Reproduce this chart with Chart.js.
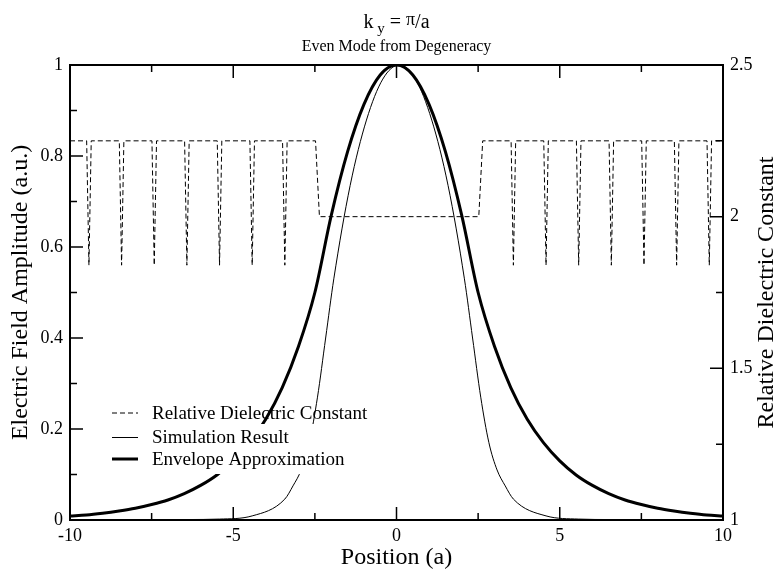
<!DOCTYPE html>
<html>
<head>
<meta charset="utf-8">
<script src="https://cdn.jsdelivr.net/npm/chart.js@4.4.1/dist/chart.umd.min.js"></script>
<style>
  html, body { margin: 0; padding: 0; background: #fff; }
</style>
</head>
<body>
<canvas id="chart" width="781" height="574"></canvas>
<script>
// relative dielectric constant (right axis)
var epsX = [-10,
  -9.49, -9.42, -9.35, -8.49, -8.42, -8.35, -7.49, -7.42, -7.35,
  -6.49, -6.42, -6.35, -5.49, -5.42, -5.35, -4.49, -4.42, -4.35,
  -3.49, -3.42, -3.35,
  -2.48, -2.36, 2.52, 2.64,
  3.51, 3.58, 3.65, 4.51, 4.58, 4.65, 5.51, 5.58, 5.65,
  6.51, 6.58, 6.65, 7.51, 7.58, 7.65, 8.51, 8.58, 8.65,
  9.51, 9.58, 9.65,
  10];
var epsY = [2.25,
  2.25, 1.84, 2.25, 2.25, 1.84, 2.25, 2.25, 1.84, 2.25,
  2.25, 1.84, 2.25, 2.25, 1.84, 2.25, 2.25, 1.84, 2.25,
  2.25, 1.84, 2.25,
  2.25, 2.0, 2.0, 2.25,
  2.25, 1.84, 2.25, 2.25, 1.84, 2.25, 2.25, 1.84, 2.25,
  2.25, 1.84, 2.25, 2.25, 1.84, 2.25, 2.25, 1.84, 2.25,
  2.25, 1.84, 2.25,
  2.25];

// simulation result
var simX = [-10, -8.42, -6.42, -5.42, -4.42, -3.42, -3.17, -2.92, -2.67, -2.42, -2.17, -1.92,
  -1.42, -0.92, -0.42, 0.08, 0.58, 1.08, 1.58,
  2.08, 2.33, 2.58, 2.83, 3.08, 3.33, 3.58, 4.58, 5.58, 6.58, 8.58, 10];
var simY = [0, 0.0005, 0.001, 0.002, 0.009, 0.046, 0.075, 0.11, 0.17, 0.27, 0.40, 0.53,
  0.735, 0.879, 0.969, 1, 0.969, 0.879, 0.735,
  0.53, 0.40, 0.27, 0.17, 0.11, 0.075, 0.046, 0.009, 0.002, 0.001, 0.0005, 0];

// envelope approximation
var envX = [-10, -9.5, -9, -8.5, -8, -7.5, -7, -6.5, -6, -5.5, -5, -4.5, -4, -3.5, -3, -2.5,
  -2, -1.5, -1, -0.5, 0, 0.5, 1, 1.5, 2,
  2.5, 3, 3.5, 4, 4.5, 5, 5.5, 6, 6.5, 7, 7.5, 8, 8.5, 9, 9.5, 10];
var envY = [0.0087, 0.011, 0.015, 0.020, 0.026, 0.034, 0.044, 0.058, 0.076, 0.099, 0.130, 0.170, 0.222, 0.291, 0.382, 0.5,
  0.669, 0.809, 0.913, 0.978, 1, 0.978, 0.913, 0.809, 0.669,
  0.5, 0.382, 0.291, 0.222, 0.170, 0.130, 0.099, 0.076, 0.058, 0.044, 0.034, 0.026, 0.020, 0.015, 0.011, 0.0087];

var seriesNames = ['Relative Dielectric Constant', 'Simulation Result', 'Envelope Approximation'];

function pts(xs, ys) {
  return xs.map(function (x, i) { return { x: x, y: ys[i] }; });
}
function plain(v) {
  return String(Math.round(v * 100) / 100);
}

var serif = "'Liberation Serif', 'Times New Roman', serif";
Chart.defaults.font.family = serif;
Chart.defaults.color = '#000';

// frame, inward ticks, legend and titles
var decor = {
  id: 'decor',
  afterDatasetsDraw: function (chart) {
    var ctx = chart.ctx, a = chart.chartArea;
    var sx = chart.scales.x, sy = chart.scales.y, sy2 = chart.scales.y2;
    ctx.save();

    // legend (white box behind the last two rows)
    ctx.fillStyle = '#fff';
    ctx.fillRect(100, 424, 250, 50);
    var rows = [413, 437.5, 459];
    chart.data.datasets.forEach(function (ds, i) {
      ctx.beginPath();
      ctx.strokeStyle = '#000';
      ctx.lineWidth = ds.borderWidth;
      ctx.setLineDash(ds.borderDash || []);
      ctx.moveTo(112, rows[i]);
      ctx.lineTo(138, rows[i]);
      ctx.stroke();
      ctx.setLineDash([]);
      ctx.fillStyle = '#000';
      ctx.font = '19px ' + serif;
      ctx.textBaseline = 'middle';
      ctx.textAlign = 'left';
      ctx.fillText(ds.label, 152, rows[i] + 1);
    });

    // ticks pointing inward
    ctx.strokeStyle = '#000';
    ctx.lineWidth = 1.5;
    function marks(scale, draw) {
      var v = scale.ticks.map(function (t) { return t.value; });
      var step = v[1] - v[0];
      v.forEach(function (val, i) {
        draw(scale.getPixelForValue(val), 13);
        if (i < v.length - 1) draw(scale.getPixelForValue(val + step / 2), 7);
      });
    }
    ctx.beginPath();
    marks(sx, function (p, len) {
      ctx.moveTo(p, a.bottom); ctx.lineTo(p, a.bottom - len);
      ctx.moveTo(p, a.top); ctx.lineTo(p, a.top + len);
    });
    marks(sy, function (p, len) {
      ctx.moveTo(a.left, p); ctx.lineTo(a.left + len, p);
    });
    marks(sy2, function (p, len) {
      ctx.moveTo(a.right, p); ctx.lineTo(a.right - len, p);
    });
    ctx.stroke();

    // frame
    ctx.lineWidth = 2;
    ctx.strokeRect(a.left, a.top, a.right - a.left, a.bottom - a.top);

    // right axis title, reading bottom to top
    ctx.save();
    ctx.translate(767, (a.top + a.bottom) / 2);
    ctx.rotate(-Math.PI / 2);
    ctx.font = '24px ' + serif;
    ctx.textAlign = 'center';
    ctx.textBaseline = 'middle';
    ctx.fillStyle = '#000';
    ctx.fillText('Relative Dielectric Constant', 0, 0);
    ctx.restore();

    // title: k_y = pi/a
    var cx = (a.left + a.right) / 2;
    var parts = [
      { t: 'k', size: 20, dy: 0 },
      { t: ' y', size: 15, dy: 5 },
      { t: ' = ', size: 20, dy: 0 },
      { t: '\u03c0', size: 18, dy: -3 },
      { t: '/a', size: 20, dy: 0 }
    ];
    var w = 0;
    parts.forEach(function (p) { ctx.font = p.size + 'px ' + serif; p.w = ctx.measureText(p.t).width; w += p.w; });
    var x0 = cx - w / 2;
    ctx.fillStyle = '#000';
    ctx.textAlign = 'left';
    ctx.textBaseline = 'alphabetic';
    parts.forEach(function (p) {
      ctx.font = p.size + 'px ' + serif;
      ctx.fillText(p.t, x0, 28 + p.dy);
      x0 += p.w;
    });
    ctx.font = '16px ' + serif;
    ctx.textAlign = 'center';
    ctx.textBaseline = 'middle';
    ctx.fillText('Even Mode from Degeneracy', cx, 47);
    ctx.restore();
  }
};

new Chart(document.getElementById('chart'), {
  type: 'scatter',
  data: {
    datasets: [
      {
        label: seriesNames[0],
        data: pts(epsX, epsY),
        yAxisID: 'y2',
        showLine: true,
        borderColor: '#000',
        borderWidth: 1,
        borderDash: [5, 3],
        pointRadius: 0,
        tension: 0
      },
      {
        label: seriesNames[1],
        data: pts(simX, simY),
        yAxisID: 'y',
        showLine: true,
        borderColor: '#000',
        borderWidth: 1,
        pointRadius: 0,
        cubicInterpolationMode: 'monotone'
      },
      {
        label: seriesNames[2],
        data: pts(envX, envY),
        yAxisID: 'y',
        showLine: true,
        borderColor: '#000',
        borderWidth: 3,
        pointRadius: 0,
        cubicInterpolationMode: 'monotone'
      }
    ]
  },
  options: {
    responsive: false,
    animation: false,
    devicePixelRatio: 1,
    layout: { padding: { top: 65, left: 0, right: 0, bottom: 0 } },
    plugins: {
      legend: { display: false },
      tooltip: { enabled: false },
      title: { display: false }
    },
    scales: {
      x: {
        type: 'linear',
        min: -10,
        max: 10,
        ticks: { stepSize: 5, font: { size: 18 }, color: '#000', padding: 5, maxRotation: 0, callback: plain },
        grid: { display: false, drawTicks: false },
        border: { display: false },
        title: { display: true, text: 'Position (a)', font: { size: 24 }, color: '#000', padding: { top: 0, bottom: 2 } },
        afterFit: function (s) { s.height = 54; }
      },
      y: {
        position: 'left',
        min: 0,
        max: 1,
        ticks: { stepSize: 0.2, font: { size: 18 }, color: '#000', padding: 7, callback: plain },
        grid: { display: false, drawTicks: false },
        border: { display: false },
        title: { display: true, text: 'Electric Field Amplitude (a.u.)', font: { size: 24 }, color: '#000', padding: { top: 6, bottom: 0 } },
        afterFit: function (s) { s.width = 70; }
      },
      y2: {
        position: 'right',
        min: 1,
        max: 2.5,
        ticks: { stepSize: 0.5, font: { size: 18 }, color: '#000', padding: 7, callback: plain },
        grid: { display: false, drawTicks: false },
        border: { display: false },
        title: { display: false },
        afterFit: function (s) { s.width = 58; }
      }
    }
  },
  plugins: [decor]
});
</script>
</body>
</html>
